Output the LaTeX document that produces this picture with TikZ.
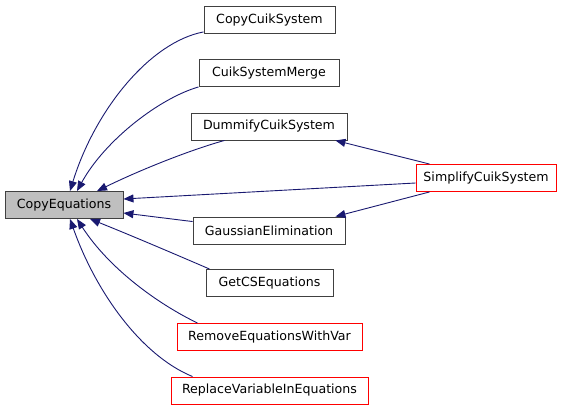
\documentclass[tikz,border=0pt]{standalone}
\usepackage{fontspec}
\setmainfont{DejaVu Sans}
\usetikzlibrary{arrows.meta}
\definecolor{edgeblue}{HTML}{191970}
\definecolor{cegray}{HTML}{BFBFBF}
\begin{document}
\begin{tikzpicture}[x=1pt,y=-1pt,
  box/.style={draw=black!75, line width=0.9pt, minimum height=27pt, inner sep=0pt, font=\fontsize{12.6}{14}\selectfont, fill=white},
  redbox/.style={box, draw=red},
  dep/.style={draw=edgeblue, line width=0.9pt, {Triangle[length=10pt,width=8pt]}-}
]
\useasboundingbox (0,0) rectangle (571,411);
\node[box, fill=cegray, minimum width=118pt] (ce) at (64,205) {CopyEquations};
\node[box, minimum width=131pt] (ccs) at (269.5,20) {CopyCuikSystem};
\node[box, minimum width=140pt] (csm) at (269,73) {CuikSystemMerge};
\node[box, minimum width=156pt] (dcs) at (269,126.5) {DummifyCuikSystem};
\node[box, minimum width=152pt] (ge) at (269,230.5) {GaussianElimination};
\node[box, minimum width=127pt] (gcs) at (269.5,283) {GetCSEquations};
\node[redbox, minimum width=185pt] (rev) at (269.5,337) {RemoveEquationsWithVar};
\node[redbox, minimum width=197pt] (rvi) at (269.5,390.5) {ReplaceVariableInEquations};
\node[redbox, minimum width=140pt] (scs) at (486,178) {SimplifyCuikSystem};

\draw[dep] ([xshift=6pt]ce.north) .. controls (95,110) and (150,42) .. ([yshift=2pt]ccs.south west);
\draw[dep] ([xshift=13pt]ce.north) .. controls (105,140) and (160,98) .. (csm.south west);
\draw[dep] ([xshift=33pt]ce.north) .. controls (140,170) and (190,150) .. ([xshift=34pt]dcs.south west);
\draw[dep] ([yshift=6pt]ce.east) -- ([yshift=-5pt]scs.west);
\draw[dep] ([yshift=-8pt]ce.east) -- ([yshift=-5pt]ge.north west);
\draw[dep] ([xshift=26pt]ce.south) .. controls (130,235) and (170,252) .. ([xshift=4pt]gcs.north west);
\draw[dep] ([xshift=13pt]ce.south) .. controls (110,270) and (160,305) .. ([xshift=21pt]rev.north west);
\draw[dep] ([xshift=6pt]ce.south) .. controls (95,290) and (140,355) .. ([xshift=22pt]rvi.north west);
\draw[dep] ([xshift=-12pt]dcs.south east) -- ([xshift=14pt]scs.north west);
\draw[dep] ([xshift=-10pt]ge.north east) -- ([xshift=14pt]scs.south west);
\end{tikzpicture}
\end{document}
